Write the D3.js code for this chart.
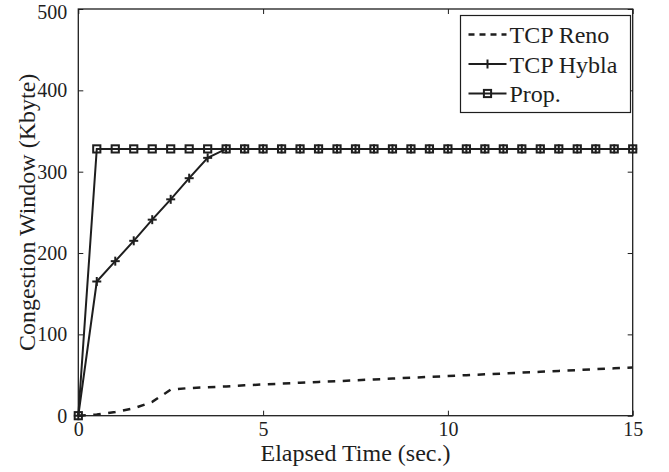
<!DOCTYPE html>
<html>
<head>
<meta charset="utf-8">
<script src="https://cdn.jsdelivr.net/npm/d3@7"></script>
<style>
  body { margin: 0; background: #fff; }
  text { font-family: "Liberation Serif", "Times New Roman", serif; fill: #1e1e1e; }
</style>
</head>
<body>
<div id="chart"></div>
<script>
// elapsed time samples (sec.)
var times = [0, 0.5, 1, 1.5, 2, 2.5, 3, 3.5, 4, 4.5, 5, 5.5, 6, 6.5, 7, 7.5,
             8, 8.5, 9, 9.5, 10, 10.5, 11, 11.5, 12, 12.5, 13, 13.5, 14, 14.5, 15];

// congestion window (Kbyte)
var reno  = [0, 1.5, 4.5, 9, 17, 32, 34, 35, 36, 37.3, 38.4, 39.4, 40.5, 41.5, 42.5, 43.5,
             44.6, 45.6, 46.7, 47.7, 48.8, 49.8, 50.9, 51.9, 53, 54, 55.1, 56.1, 57.2, 58.2, 59.2];
var hybla = [0, 165, 190, 215, 241, 266, 292, 317, 328, 328, 328, 328, 328, 328, 328, 328,
             328, 328, 328, 328, 328, 328, 328, 328, 328, 328, 328, 328, 328, 328, 328];
var prop  = [0, 328, 328, 328, 328, 328, 328, 328, 328, 328, 328, 328, 328, 328, 328, 328,
             328, 328, 328, 328, 328, 328, 328, 328, 328, 328, 328, 328, 328, 328, 328];

var seriesNames = ["TCP Reno", "TCP Hybla", "Prop."];
var xTicks = [0, 5, 10, 15];
var yTicks = [0, 100, 200, 300, 400, 500];

var W = 669, H = 472;
var margin = {top: 9, right: 36.3, bottom: 56.3, left: 78.3};
var width = W - margin.left - margin.right,
    height = H - margin.top - margin.bottom;
var ink = "#1e1e1e";

var svg = d3.select("#chart").append("svg")
    .attr("width", W).attr("height", H);
var g = svg.append("g")
    .attr("transform", "translate(" + margin.left + "," + margin.top + ")");

var x = d3.scaleLinear().domain([0, 15]).range([0, width]);
var y = d3.scaleLinear().domain([0, 500]).range([height, 0]);

// axes (matlab style: ticks inside, box on)
function styleAxis(sel) {
    sel.select(".domain").remove();
    sel.selectAll("line").attr("stroke", ink).attr("stroke-width", 1);
    sel.selectAll("text").style("font-size", "20px").attr("fill", ink);
}
g.append("g").attr("transform", "translate(0," + height + ")")
    .call(d3.axisBottom(x).tickValues(xTicks).tickSizeInner(-5).tickPadding(6).tickFormat(d3.format("d")))
    .call(styleAxis);
var yAx = g.append("g")
    .call(d3.axisLeft(y).tickValues(yTicks).tickSizeInner(-5).tickPadding(11).tickFormat(d3.format("d")))
    .call(styleAxis);
// top label sits a touch lower, like the original
yAx.selectAll(".tick text").filter(function(d) { return d === 500; }).attr("dy", "0.45em");

g.append("g")
    .call(d3.axisTop(x).tickValues(xTicks).tickSizeInner(-5).tickFormat(""))
    .call(styleAxis);
g.append("g").attr("transform", "translate(" + width + ",0)")
    .call(d3.axisRight(y).tickValues(yTicks).tickSizeInner(-5).tickFormat(""))
    .call(styleAxis);

g.append("rect").attr("width", width).attr("height", height)
    .attr("fill", "none").attr("stroke", ink).attr("stroke-width", 1.3);

var line = d3.line()
    .x(function(d) { return x(d[0]); })
    .y(function(d) { return y(d[1]); });

var renoPts  = times.map(function(t, i) { return [t, reno[i]]; });
var hyblaPts = times.map(function(t, i) { return [t, hybla[i]]; });
var propPts  = times.map(function(t, i) { return [t, prop[i]]; });

g.append("path").datum(renoPts).attr("d", line)
    .attr("fill", "none").attr("stroke", ink).attr("stroke-width", 2.5)
    .attr("stroke-dasharray", "7.5,7.5");

g.append("path").datum(hyblaPts).attr("d", line)
    .attr("fill", "none").attr("stroke", ink).attr("stroke-width", 2);
g.append("path").datum(propPts).attr("d", line)
    .attr("fill", "none").attr("stroke", ink).attr("stroke-width", 2);

function plus(sel, s) {
    sel.append("line").attr("x1", -s).attr("x2", s).attr("y1", 0).attr("y2", 0);
    sel.append("line").attr("x1", 0).attr("x2", 0).attr("y1", -s).attr("y2", s);
}
function square(sel, s) {
    sel.append("rect").attr("x", -s).attr("y", -s).attr("width", 2 * s).attr("height", 2 * s)
        .attr("fill", "none");
}

g.selectAll(".hm").data(hyblaPts).enter().append("g")
    .attr("transform", function(d) { return "translate(" + x(d[0]) + "," + y(d[1]) + ")"; })
    .attr("stroke", ink).attr("stroke-width", 2)
    .each(function() { plus(d3.select(this), 4.5); });

g.selectAll(".pm").data(propPts).enter().append("g")
    .attr("transform", function(d) { return "translate(" + x(d[0]) + "," + y(d[1]) + ")"; })
    .attr("stroke", ink).attr("stroke-width", 2)
    .each(function() { square(d3.select(this), 3.6); });

// axis labels
svg.append("text")
    .attr("x", margin.left + width / 2).attr("y", 461)
    .attr("text-anchor", "middle").style("font-size", "24px")
    .text("Elapsed Time (sec.)");
svg.append("text")
    .attr("transform", "translate(35," + (margin.top + height / 2) + ") rotate(-90)")
    .attr("text-anchor", "middle").style("font-size", "24px")
    .text("Congestion Window (Kbyte)");

// legend
var lg = svg.append("g").attr("transform", "translate(460.5,15.5)");
lg.append("rect").attr("width", 170).attr("height", 97)
    .attr("fill", "#fff").attr("stroke", ink).attr("stroke-width", 1.2);
seriesNames.forEach(function(name, i) {
    var cy = 19 + i * 29.5;
    var row = lg.append("g").attr("transform", "translate(0," + cy + ")");
    var ln = row.append("line").attr("x1", 8).attr("x2", 46).attr("y1", 0).attr("y2", 0)
        .attr("stroke", ink).attr("stroke-width", 2);
    if (i === 0) ln.attr("stroke-dasharray", "6,5").attr("stroke-width", 2.5);
    var mk = row.append("g").attr("transform", "translate(27,0)")
        .attr("stroke", ink).attr("stroke-width", 2);
    if (i === 1) plus(mk, 4.5);
    if (i === 2) square(mk, 3.6);
    row.append("text").attr("x", 49).attr("y", 8.5)
        .style("font-size", "24px").text(name);
});
</script>
</body>
</html>
